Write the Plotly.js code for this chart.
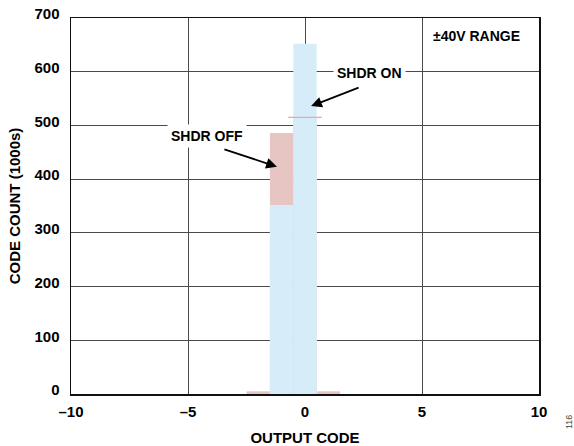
<!DOCTYPE html>
<html><head><meta charset="utf-8">
<script src="https://cdn.plot.ly/plotly-3.0.1.min.js"></script>
<style>body{margin:0;background:#fff}#c{width:574px;height:446px}</style>
</head><body><div id="c"></div>
<script>
const codes = [-2, -1, 0, 1];
const shdrOff = [5, 486, 515, 5];
const shdrOn = [0, 352, 652, 0];
const xTicks = [-10, -5, 0, 5, 10];
const xTickText = ['–10', '–5', '0', '5', '10'];
const yTicks = [0, 100, 200, 300, 400, 500, 600, 700];

const F = 'Liberation Sans, Arial, sans-serif';
const pink = '#e6c5c3', blue = '#d7ecf9';

const traces = [
  {type:'bar', x:codes, y:shdrOff, width:1, marker:{color:pink, line:{width:0}}, hoverinfo:'none'},
  {type:'bar', x:codes, y:shdrOn, width:1, marker:{color:blue, line:{width:0}}, hoverinfo:'none'},
  {type:'scatter', mode:'markers', x:[codes[2]], y:[shdrOff[2]], marker:{symbol:'line-ew-open', size:24, color:'#e6a9a6', line:{color:'#e6a9a6', width:1.2}}, hoverinfo:'none'}
];

const L = 71, R = 35, T = 18, B = 52;
const pw = 574 - L - R, ph = 446 - T - B;

const layout = {
  width:574, height:446,
  margin:{l:L, r:R, t:T, b:B},
  paper_bgcolor:'#fff', plot_bgcolor:'#fff',
  barmode:'overlay', showlegend:false,
  font:{family:F, size:13, color:'#000'},
  xaxis:{range:[-10,10], tickvals:xTicks, ticktext:xTickText, showgrid:true, gridcolor:'#4a4a4a', gridwidth:1,
    zeroline:false, showline:true, mirror:true, linecolor:'#111', linewidth:1.5, ticks:'',
    ticklabelstandoff:3,
    tickfont:{family:F, size:15, weight:'bold'},
    title:{text:'<b>OUTPUT CODE</b>', font:{family:F, size:15}, standoff:17}},
  yaxis:{range:[0,700], tickvals:yTicks, showgrid:true, gridcolor:'#4a4a4a', gridwidth:1,
    zeroline:false, showline:true, mirror:true, linecolor:'#111', linewidth:1.5, ticks:'',
    ticklabelstandoff:7, ticklabelshift:-4,
    tickfont:{family:F, size:15, weight:'bold'},
    title:{text:'<b>CODE COUNT (1000s)</b>', font:{family:F, size:15}, standoff:10}},
  annotations:[
    {x:7.35, y:667, xref:'x', yref:'y', text:'<b>±40V RANGE</b>', showarrow:false, font:{family:F, size:14}},
    {x:2.74, y:598, xref:'x', yref:'y', text:'<b>SHDR ON</b>', showarrow:false, bgcolor:'#fff', borderpad:3, font:{family:F, size:14}},
    {x:-4.19, y:480, xref:'x', yref:'y', text:'<b>SHDR OFF</b>', showarrow:false, bgcolor:'#fff', borderpad:3, font:{family:F, size:14}},
    {x:0.26, y:536, xref:'x', yref:'y', text:'', showarrow:true, ax:49, ay:-19, arrowhead:2, arrowsize:1.2, arrowwidth:1.8, arrowcolor:'#000'},
    {x:-1.2, y:423, xref:'x', yref:'y', text:'', showarrow:true, ax:-54, ay:-18, arrowhead:2, arrowsize:1.2, arrowwidth:1.8, arrowcolor:'#000'},
    {x:(569-L)/pw, y:(446-B-422)/ph, xref:'paper', yref:'paper', xanchor:'center', yanchor:'middle', text:'116', showarrow:false, textangle:-90, font:{family:F, size:9, color:'#444'}}
  ]
};
Plotly.newPlot('c', traces, layout, {staticPlot:true, displayModeBar:false});
</script></body></html>
